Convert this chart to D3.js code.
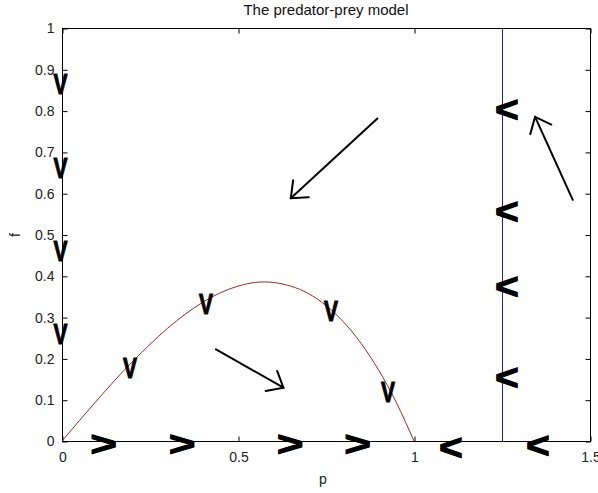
<!DOCTYPE html>
<html>
<head>
<meta charset="utf-8">
<script src="https://cdn.jsdelivr.net/npm/d3@7"></script>
<style>
  html, body { margin: 0; padding: 0; background: #fff; }
  svg { display: block; }
  text { font-family: "Liberation Sans", Arial, sans-serif; }
</style>
</head>
<body>
<svg id="chart" width="598" height="493"></svg>
<script>
// Prey nullcline (red curve): prey density p and predator density f
const curveP = [0, 0.05, 0.1, 0.15, 0.2, 0.25, 0.3, 0.35, 0.4, 0.45, 0.5,
                0.55, 0.6, 0.65, 0.7, 0.75, 0.8, 0.85, 0.9, 0.95, 1.0];
const curveF = [0, 0.050, 0.099, 0.147, 0.192, 0.234, 0.273, 0.307, 0.336, 0.359, 0.375,
                0.384, 0.384, 0.375, 0.357, 0.328, 0.288, 0.236, 0.171, 0.093, 0];

// Predator nullcline (blue vertical line)
const predatorNullP = 1.25;

// Axis ticks
const xTicks = [0, 0.5, 1, 1.5];
const yTicks = [0, 0.1, 0.2, 0.3, 0.4, 0.5, 0.6, 0.7, 0.8, 0.9, 1];

// Direction glyphs: character, p, f
const glyphChar = ["V", "V", "V", "V",
                   "V", "V", "V", "V",
                   ">", ">", ">", ">",
                   "<", "<",
                   "<", "<", "<", "<"];
const glyphP = [-0.004, -0.004, -0.004, -0.004,
                0.193, 0.409, 0.764, 0.926,
                0.118, 0.341, 0.648, 0.84,
                1.105, 1.352,
                1.264, 1.264, 1.264, 1.264];
const glyphF = [0.867, 0.664, 0.462, 0.261,
                0.179, 0.334, 0.317, 0.121,
                -0.004, -0.004, -0.004, -0.006,
                -0.014, -0.008,
                0.805, 0.559, 0.377, 0.157];

// Flow arrows: tail (p, f) -> head (p, f)
const arrowTailP = [0.896, 0.4375, 1.451];
const arrowTailF = [0.781, 0.222, 0.584];
const arrowHeadP = [0.650, 0.629, 1.344];
const arrowHeadF = [0.588, 0.129, 0.785];

const svg = d3.select("#chart");
const plotL = 62, plotR = 590, plotT = 28, plotB = 441;

const x = d3.scaleLinear().domain([0, 1.5]).range([plotL, plotR]);
const y = d3.scaleLinear().domain([0, 1]).range([plotB, plotT]);

// Frame
svg.append("rect")
  .attr("x", plotL + 0.5).attr("y", plotT + 0.5)
  .attr("width", plotR - plotL).attr("height", plotB - plotT)
  .attr("fill", "#fff").attr("stroke", "#000").attr("stroke-width", 1);

const fmt = d => String(+d.toFixed(2));

// Axes with inward ticks
const gx = svg.append("g").attr("transform", `translate(0.5,${plotB + 0.5})`)
  .call(d3.axisBottom(x).tickValues(xTicks).tickFormat(fmt).tickSizeInner(-5).tickSizeOuter(0).tickPadding(11));
const gy = svg.append("g").attr("transform", `translate(${plotL + 0.5},0.5)`)
  .call(d3.axisLeft(y).tickValues(yTicks).tickFormat(fmt).tickSizeInner(-5).tickSizeOuter(0).tickPadding(8));
const gt = svg.append("g").attr("transform", `translate(0.5,${plotT + 0.5})`)
  .call(d3.axisTop(x).tickValues(xTicks).tickFormat("").tickSizeInner(-5).tickSizeOuter(0));
const gr = svg.append("g").attr("transform", `translate(${plotR + 0.5},0.5)`)
  .call(d3.axisRight(y).tickValues(yTicks).tickFormat("").tickSizeInner(-5).tickSizeOuter(0));

[gx, gy, gt, gr].forEach(g => {
  g.select(".domain").remove();
  g.selectAll(".tick line").attr("stroke", "#000");
  g.selectAll(".tick text").attr("fill", "#222").style("font-size", "14px")
    .style("font-family", "'Liberation Sans', Arial, sans-serif");
});

// Prey nullcline
const line = d3.line().x((d, i) => x(curveP[i])).y((d, i) => y(curveF[i])).curve(d3.curveNatural);
svg.append("path")
  .datum(curveP)
  .attr("d", line)
  .attr("fill", "none").attr("stroke", "#9b2a2a").attr("stroke-width", 1);

// Predator nullcline
svg.append("line")
  .attr("x1", x(predatorNullP) + 0.5).attr("x2", x(predatorNullP) + 0.5)
  .attr("y1", y(1)).attr("y2", y(0))
  .attr("stroke", "#25258a").attr("stroke-width", 1);

// Direction glyphs
const glyphStyle = {
  "V": { size: 30, sx: 0.7, sy: 1.0, base: 0.358 },
  ">": { size: 34, sx: 1.35, sy: 1.05, base: 0.36 },
  "<": { size: 34, sx: 1.2, sy: 1.1, base: 0.36 }
};
glyphChar.forEach((c, i) => {
  const s = glyphStyle[c];
  svg.append("text")
    .attr("transform", `translate(${x(glyphP[i])},${y(glyphF[i])}) scale(${s.sx},${s.sy})`)
    .attr("y", s.size * s.base)
    .attr("text-anchor", "middle")
    .style("font-size", s.size + "px")
    .style("font-weight", "bold")
    .attr("fill", "#000")
    .attr("stroke", "#000")
    .attr("stroke-width", 1)
    .attr("stroke-linejoin", "round")
    .text(c);
});

// Flow arrows
const headLen = 18, headAng = 40 * Math.PI / 180;
arrowTailP.forEach((tp, i) => {
  const x1 = x(tp), y1 = y(arrowTailF[i]);
  const x2 = x(arrowHeadP[i]), y2 = y(arrowHeadF[i]);
  const a = Math.atan2(y1 - y2, x1 - x2);
  const g = svg.append("g").attr("stroke", "#000").attr("stroke-width", 2).attr("fill", "none")
    .attr("stroke-linecap", "round");
  g.append("line").attr("x1", x1).attr("y1", y1).attr("x2", x2).attr("y2", y2);
  g.append("path").attr("d",
    `M${x2 + headLen * Math.cos(a + headAng)},${y2 + headLen * Math.sin(a + headAng)}` +
    `L${x2},${y2}` +
    `L${x2 + headLen * Math.cos(a - headAng)},${y2 + headLen * Math.sin(a - headAng)}`);
});

// Title and axis labels
svg.append("text").attr("x", 326).attr("y", 15).attr("text-anchor", "middle")
  .style("font-size", "15px").attr("fill", "#111").text("The predator-prey model");
svg.append("text").attr("x", 323).attr("y", 484).attr("text-anchor", "middle")
  .style("font-size", "14px").attr("fill", "#222").text("p");
svg.append("text").attr("transform", "translate(20,235) rotate(-90)").attr("text-anchor", "middle")
  .style("font-size", "14px").attr("fill", "#222").text("f");
</script>
</body>
</html>
